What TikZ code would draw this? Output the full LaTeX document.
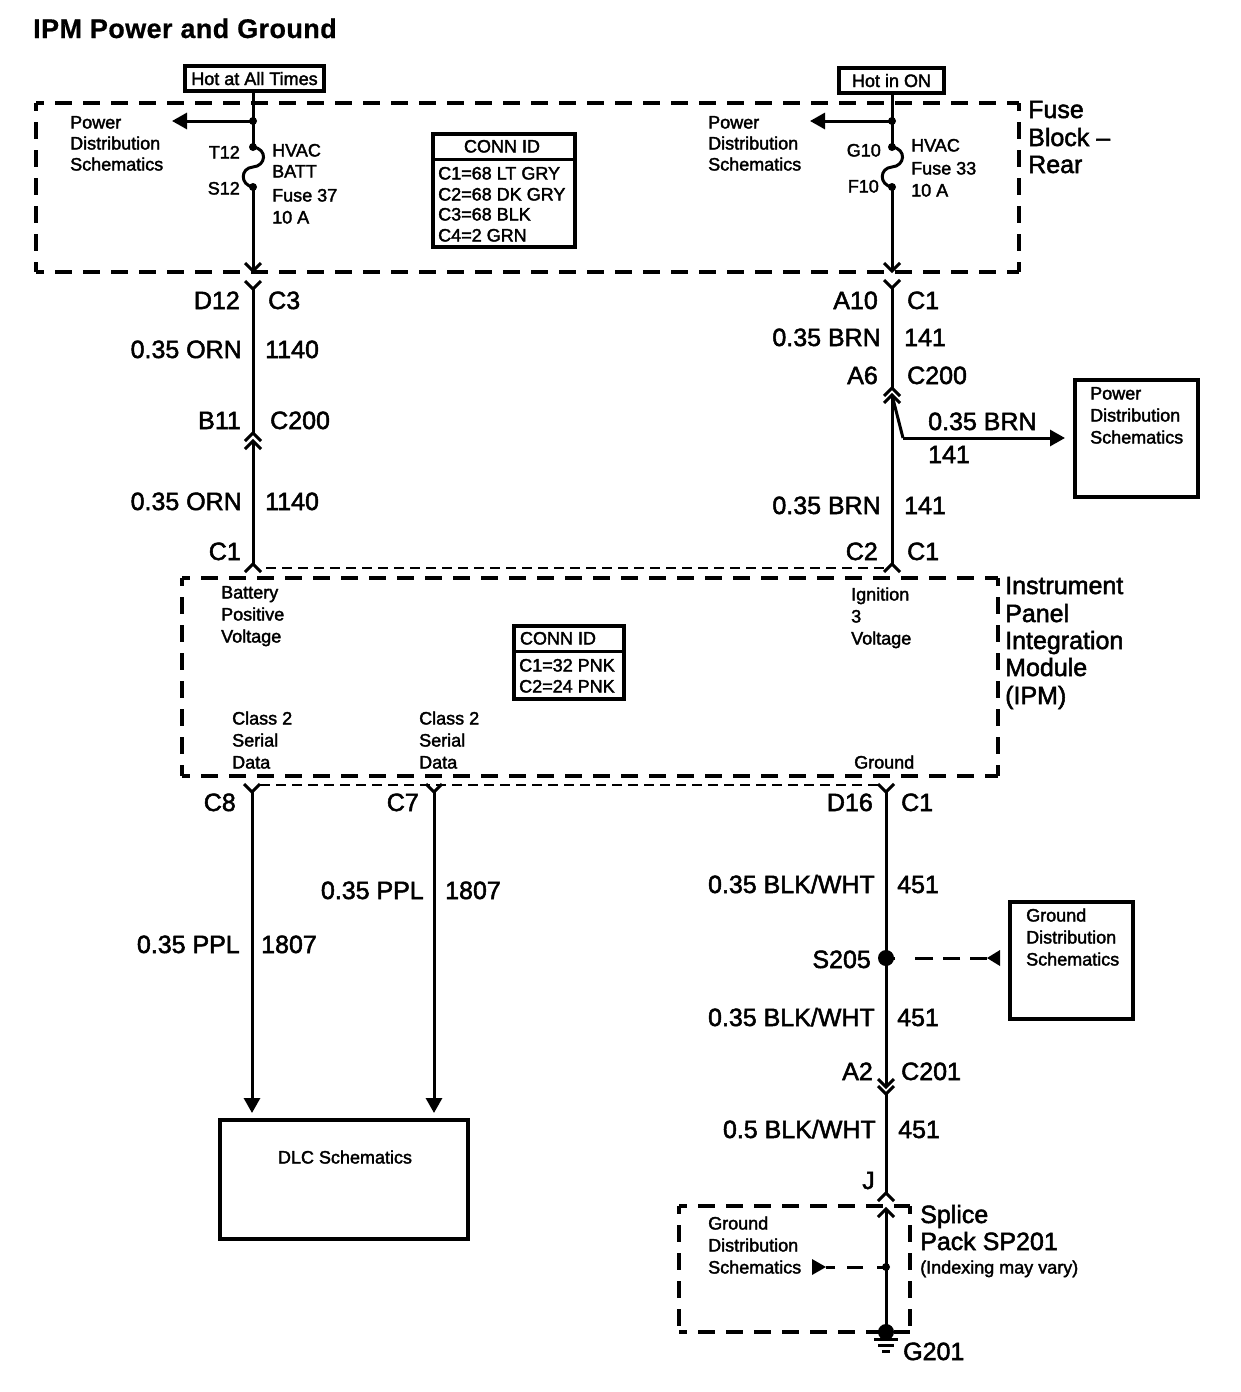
\documentclass[tikz,border=0pt]{standalone}
\usepackage{fontspec}
\usetikzlibrary{arrows.meta}
\setmainfont{Liberation Sans}
\newfontfamily\wfont[FakeBold=2]{Liberation Sans}
\newfontfamily\titlefont[FakeBold=0.6,LetterSpace=1.5]{Liberation Sans Bold}
\tikzset{
  x=1pt,y=-1pt,
  big/.style={font=\wfont\fontsize{25}{25}\selectfont,inner sep=0pt,text height=16pt,text depth=0pt},
  small/.style={font=\wfont\fontsize{18}{18}\selectfont,inner sep=0pt,text height=13pt,text depth=0pt},
  le/.style={anchor=west},
  ri/.style={anchor=east},
  wire/.style={line width=3pt,draw=black},
  thinwire/.style={line width=3pt,draw=black},
  arrowed/.style={wire,-{Triangle[length=15pt,width=16pt]}},
  bigdash/.style={line width=4.4pt,draw=black,dash pattern=on 17pt off 11pt,dash phase=9pt},
  smalldash/.style={line width=2.6pt,draw=black,dash pattern=on 10pt off 6pt},
  boxed/.style={draw=black,line width=4pt,inner sep=0pt,outer sep=0pt,anchor=north west},
  dot/.style={circle,fill=black,inner sep=0pt,minimum size=#1},
  chevup/.pic={\draw[thinwire] (-8,8)--(0,0)--(8,8);},
  chevdown/.pic={\draw[thinwire] (-8,-8)--(0,0)--(8,-8);},
}
\newcommand{\dashframe}[4]{%
  \draw[bigdash] (#1,#2) -- (#3,#2);
  \draw[bigdash] (#1,#2) -- (#1,#4);
  \draw[bigdash] (#1,#4) -- (#3,#4);
  \draw[bigdash] (#3,#2) -- (#3,#4);
}
\begin{document}
\begin{tikzpicture}
\fill[white,use as bounding box] (0,0) rectangle (1240,1392);

% title
\node[anchor=west,inner sep=0pt,font=\titlefont\fontsize{27}{27}\selectfont,text height=18pt,text depth=0pt] (title) at (33,29) {IPM Power and Ground};

% dashed enclosures
\dashframe{36}{103}{1019}{272}
\dashframe{182}{578}{998}{776}
\dashframe{679}{1206}{910}{1332}
\coordinate (tda) at (266,568); \coordinate (tdb) at (884,568);
\coordinate (bda) at (260,785); \coordinate (bdb) at (880,785);
\draw[smalldash] (tda) -- (tdb);
\draw[smalldash] (bda) -- (bdb);

% supply boxes
\node[boxed,minimum width=139pt,minimum height=25pt,small] (hot) at (185,66) {Hot at All Times};
\node[boxed,minimum width=105pt,minimum height=25pt,small] (on) at (839,68) {Hot in ON};

% junctions, fuse ends
\node[dot=8pt] (jl) at (253,121) {};
\node[dot=8pt] (tl) at (253,147) {};
\node[dot=8pt] (sl) at (253,187) {};
\node[dot=8pt] (jr) at (892,121) {};
\node[dot=8pt] (tr) at (892,147) {};
\node[dot=8pt] (sr) at (892,187) {};
\coordinate (hotb) at (253,92); \coordinate (onb) at (892,94);
\coordinate (al) at (172,121); \coordinate (ar) at (810,121);
\coordinate (el) at (253,271); \coordinate (er) at (892,271);

\draw[wire] (hotb) -- (tl.center);
\draw[wire] (onb) -- (tr.center);
\draw[arrowed] (jl.center) -- (al);
\draw[arrowed] (jr.center) -- (ar);
\draw[wire] (tl.center) .. controls (268,149) and (266,166) .. (253,167) .. controls (240,168) and (240,185) .. (sl.center);
\draw[wire] (tr.center) .. controls (907,149) and (905,166) .. (892,167) .. controls (879,168) and (879,185) .. (sr.center);
\draw[wire] (sl.center) -- (el);
\draw[wire] (sr.center) -- (er);
\pic at (el) {chevdown};
\pic at (er) {chevdown};

% left feed
\coordinate (l1) at (253,289); \coordinate (l2) at (253,433);
\coordinate (l3) at (253,441); \coordinate (l4) at (253,564);
\draw[wire] (l1) -- (l2);
\draw[wire] (l3) -- (l4);
\pic at (l1) {chevdown};
\pic at (l2) {chevup};
\pic at (l3) {chevup};
\pic at (l4) {chevup};

% right feed
\coordinate (r1) at (892,288); \coordinate (r2) at (892,388);
\coordinate (r3) at (892,395); \coordinate (r4) at (892,564);
\coordinate (rb) at (903,438); \coordinate (rt) at (1065,438);
\draw[wire] (r1) -- (r2);
\draw[wire] (r3) -- (r4);
\draw[wire] (r3) -- (rb);
\draw[arrowed] (rb) -- (rt);
\pic at (r1) {chevdown};
\pic at (r2) {chevup};
\pic at (r3) {chevup};
\pic at (r4) {chevup};

% destination boxes
\node[boxed,minimum width=123pt,minimum height=117pt] (pds) at (1075,380) {};
\node[boxed,minimum width=123pt,minimum height=117pt] (gds) at (1010,902) {};
\node[boxed,minimum width=248pt,minimum height=119pt] (dlc) at (220,1120) {};
\node[small] (dlct) at (345,1157) {DLC Schematics};

% class 2 wires
\coordinate (c8) at (252,792); \coordinate (c8e) at (252,1113);
\coordinate (c7) at (434,792); \coordinate (c7e) at (434,1113);
\draw[arrowed] (c8) -- (c8e);
\draw[arrowed] (c7) -- (c7e);
\pic at (c8) {chevdown};
\pic at (c7) {chevdown};

% ground wire
\coordinate (g1) at (886,792); \coordinate (g2) at (886,1087);
\coordinate (g3) at (886,1094); \coordinate (g4) at (886,1193);
\coordinate (g5) at (886,1209);
\node[dot=16pt] (s205) at (886,958) {};
\node[dot=8pt] (spl) at (886,1267) {};
\node[dot=16pt] (gnd) at (886,1332) {};
\draw[wire] (g1) -- (g2);
\draw[wire] (g3) -- (g4);
\draw[wire] (g5) -- (gnd.center);
\pic at (g1) {chevdown};
\pic at (g2) {chevdown};
\pic at (g3) {chevdown};
\pic at (g4) {chevup};
\pic at (g5) {chevup};

% ground symbol
\coordinate (ga1) at (874,1339); \coordinate (ga2) at (898,1339);
\coordinate (gb1) at (878,1345); \coordinate (gb2) at (894,1345);
\coordinate (gc1) at (882,1351); \coordinate (gc2) at (890,1351);
\draw[line width=3pt] (ga1) -- (ga2);
\draw[line width=3pt] (gb1) -- (gb2);
\draw[line width=3pt] (gc1) -- (gc2);

% dashed feeds
\coordinate (gdst) at (1000,958);
\coordinate (gdsa) at (987,958);
\draw[line width=3pt,dash pattern=on 17pt off 10pt on 17pt off 10pt on 18pt off 20pt on 10pt off 10pt] (gdsa) -- (s205.center);
\fill (gdsa) -- (gdst |- 0,950) -- (gdst |- 0,966) -- cycle;
\coordinate (spt) at (826,1267);
\draw[line width=3pt,dash pattern=on 9pt off 14pt on 16pt off 12pt on 10pt off 20pt] (spl.center) -- (spt);
\fill (spt) -- (812,1259) -- (812,1275) -- cycle;

% CONN ID tables
\node[boxed,minimum width=142pt,minimum height=113pt] (cid1) at (433,134) {};
\coordinate (cid1a) at (433,159); \coordinate (cid1b) at (575,159);
\draw[line width=3pt] (cid1a) -- (cid1b);
\node[small] (cid1t) at (502,146) {CONN ID};
\node[small,le] (k1) at (438,173) {C1=68 LT GRY};
\node[small,le] (k2) at (438,194) {C2=68 DK GRY};
\node[small,le] (k3) at (438,214) {C3=68 BLK};
\node[small,le] (k4) at (438,235) {C4=2 GRN};

\node[boxed,minimum width=110pt,minimum height=73pt] (cid2) at (514,626) {};
\coordinate (cid2a) at (514,651); \coordinate (cid2b) at (624,651);
\draw[line width=3pt] (cid2a) -- (cid2b);
\node[small] (cid2t) at (558,638) {CONN ID};
\node[small,le] (m1) at (519,665) {C1=32 PNK};
\node[small,le] (m2) at (519,686) {C2=24 PNK};

% fuse block text
\node[small,le] (a1) at (70,122) {Power};
\node[small,le] (a2) at (70,143) {Distribution};
\node[small,le] (a3) at (70,164) {Schematics};
\node[small,ri] (a4) at (240,152) {T12};
\node[small,ri] (a5) at (240,188) {S12};
\node[small,le] (a6) at (272,150) {HVAC};
\node[small,le] (a7) at (272,171) {BATT};
\node[small,le] (a8) at (272,195) {Fuse 37};
\node[small,le] (a9) at (272,217) {10 A};
\node[small,le] (b1) at (708,122) {Power};
\node[small,le] (b2) at (708,143) {Distribution};
\node[small,le] (b3) at (708,164) {Schematics};
\node[small,ri] (b4) at (881,150) {G10};
\node[small,ri] (b5) at (879,186) {F10};
\node[small,le] (b6) at (911,145) {HVAC};
\node[small,le] (b7) at (911,168) {Fuse 33};
\node[small,le] (b8) at (911,190) {10 A};
\node[big,le] (f1) at (1028,110) {Fuse};
\node[big,le] (f2) at (1028,138) {Block –};
\node[big,le] (f3) at (1028,165) {Rear};

% left feed labels
\node[big,ri] (l11) at (240,301) {D12};
\node[big,le] (l12) at (268,301) {C3};
\node[big,ri] (l13) at (242,350) {0.35 ORN};
\node[big,le] (l14) at (265,350) {1140};
\node[big,ri] (l15) at (241,421) {B11};
\node[big,le] (l16) at (270,421) {C200};
\node[big,ri] (l17) at (242,502) {0.35 ORN};
\node[big,le] (l18) at (265,502) {1140};
\node[big,ri] (l19) at (241,552) {C1};

% right feed labels
\node[big,ri] (r11) at (878,301) {A10};
\node[big,le] (r12) at (907,301) {C1};
\node[big,ri] (r13) at (881,338) {0.35 BRN};
\node[big,le] (r14) at (904,338) {141};
\node[big,ri] (r15) at (878,376) {A6};
\node[big,le] (r16) at (907,376) {C200};
\node[big,le] (r17) at (928,422) {0.35 BRN};
\node[big,le] (r18) at (928,455) {141};
\node[big,ri] (r19) at (881,506) {0.35 BRN};
\node[big,le] (r20) at (904,506) {141};
\node[big,ri] (r21) at (878,552) {C2};
\node[big,le] (r22) at (907,552) {C1};

\node[small,le] (p1) at (1090,393) {Power};
\node[small,le] (p2) at (1090,415) {Distribution};
\node[small,le] (p3) at (1090,437) {Schematics};

% IPM text
\node[small,le] (i1) at (221,592) {Battery};
\node[small,le] (i2) at (221,614) {Positive};
\node[small,le] (i3) at (221,636) {Voltage};
\node[small,le] (i4) at (851,594) {Ignition};
\node[small,le] (i5) at (851,616) {3};
\node[small,le] (i6) at (851,638) {Voltage};
\node[small,le] (i7) at (232,718) {Class 2};
\node[small,le] (i8) at (232,740) {Serial};
\node[small,le] (i9) at (232,762) {Data};
\node[small,le] (i10) at (419,718) {Class 2};
\node[small,le] (i11) at (419,740) {Serial};
\node[small,le] (i12) at (419,762) {Data};
\node[small,le] (i13) at (854,762) {Ground};
\node[big,le] (n1) at (1005,586) {Instrument};
\node[big,le] (n2) at (1005,614) {Panel};
\node[big,le] (n3) at (1005,641) {Integration};
\node[big,le] (n4) at (1005,668) {Module};
\node[big,le] (n5) at (1005,696) {(IPM)};

% lower labels
\node[big,ri] (d1) at (236,803) {C8};
\node[big,ri] (d2) at (419,803) {C7};
\node[big,ri] (d3) at (873,803) {D16};
\node[big,le] (d4) at (901,803) {C1};
\node[big,ri] (d5) at (240,945) {0.35 PPL};
\node[big,le] (d6) at (261,945) {1807};
\node[big,ri] (d7) at (424,891) {0.35 PPL};
\node[big,le] (d8) at (445,891) {1807};
\node[big,ri] (d9) at (875,885) {0.35 BLK/WHT};
\node[big,le] (d10) at (897,885) {451};
\node[big,ri] (d11) at (871,960) {S205};
\node[big,ri] (d12) at (875,1018) {0.35 BLK/WHT};
\node[big,le] (d13) at (897,1018) {451};
\node[big,ri] (d14) at (873,1072) {A2};
\node[big,le] (d15) at (901,1072) {C201};
\node[big,ri] (d16) at (876,1130) {0.5 BLK/WHT};
\node[big,le] (d17) at (898,1130) {451};
\node[big,ri] (d18) at (875,1181) {J};
\node[big,le] (d19) at (920,1215) {Splice};
\node[big,le] (d20) at (920,1242) {Pack SP201};
\node[small,le] (d21) at (920,1267) {(Indexing may vary)};
\node[big,le] (d22) at (903,1352) {G201};

\node[small,le] (q1) at (1026,915) {Ground};
\node[small,le] (q2) at (1026,937) {Distribution};
\node[small,le] (q3) at (1026,959) {Schematics};
\node[small,le] (q4) at (708,1223) {Ground};
\node[small,le] (q5) at (708,1245) {Distribution};
\node[small,le] (q6) at (708,1267) {Schematics};
\end{tikzpicture}
\end{document}
